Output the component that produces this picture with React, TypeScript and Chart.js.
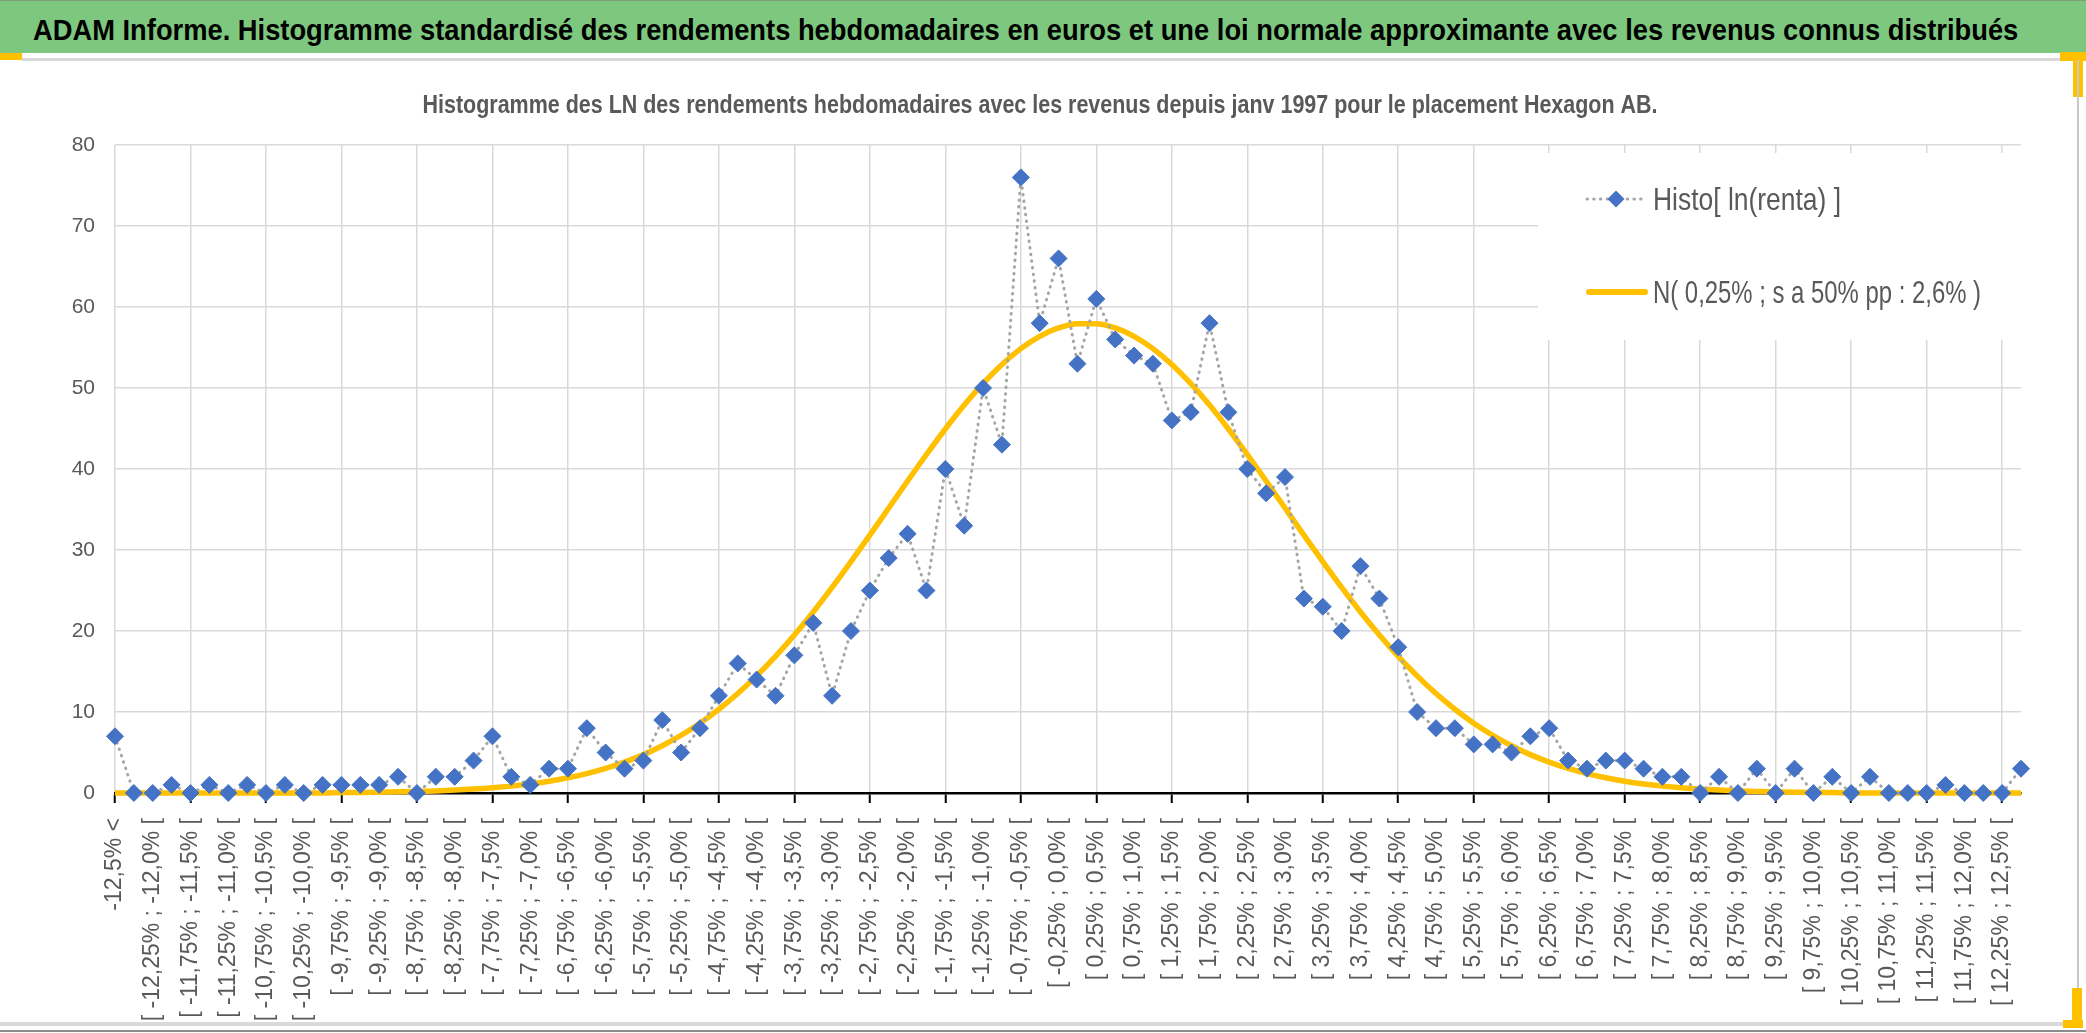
import React, { useEffect, useRef } from 'react';
import { Chart, registerables } from 'chart.js';

Chart.register(...registerables);

const mainTitle =
  'ADAM Informe. Histogramme standardisé des rendements hebdomadaires en euros et une loi normale approximante avec les revenus connus distribués';
const chartTitle =
  'Histogramme des LN des rendements hebdomadaires avec les revenus depuis janv 1997 pour le placement Hexagon AB.';

const seriesHistoName = 'Histo[ ln(renta) ]';
const seriesNormalName = 'N( 0,25% ; s a 50% pp : 2,6% )';

const categories = [
  '-12,5% <',
  '[ -12,5% ; -12,25% [', '[ -12,25% ; -12,0% [', '[ -12,0% ; -11,75% [', '[ -11,75% ; -11,5% [',
  '[ -11,5% ; -11,25% [', '[ -11,25% ; -11,0% [', '[ -11,0% ; -10,75% [', '[ -10,75% ; -10,5% [',
  '[ -10,5% ; -10,25% [', '[ -10,25% ; -10,0% [', '[ -10,0% ; -9,75% [', '[ -9,75% ; -9,5% [',
  '[ -9,5% ; -9,25% [', '[ -9,25% ; -9,0% [', '[ -9,0% ; -8,75% [', '[ -8,75% ; -8,5% [',
  '[ -8,5% ; -8,25% [', '[ -8,25% ; -8,0% [', '[ -8,0% ; -7,75% [', '[ -7,75% ; -7,5% [',
  '[ -7,5% ; -7,25% [', '[ -7,25% ; -7,0% [', '[ -7,0% ; -6,75% [', '[ -6,75% ; -6,5% [',
  '[ -6,5% ; -6,25% [', '[ -6,25% ; -6,0% [', '[ -6,0% ; -5,75% [', '[ -5,75% ; -5,5% [',
  '[ -5,5% ; -5,25% [', '[ -5,25% ; -5,0% [', '[ -5,0% ; -4,75% [', '[ -4,75% ; -4,5% [',
  '[ -4,5% ; -4,25% [', '[ -4,25% ; -4,0% [', '[ -4,0% ; -3,75% [', '[ -3,75% ; -3,5% [',
  '[ -3,5% ; -3,25% [', '[ -3,25% ; -3,0% [', '[ -3,0% ; -2,75% [', '[ -2,75% ; -2,5% [',
  '[ -2,5% ; -2,25% [', '[ -2,25% ; -2,0% [', '[ -2,0% ; -1,75% [', '[ -1,75% ; -1,5% [',
  '[ -1,5% ; -1,25% [', '[ -1,25% ; -1,0% [', '[ -1,0% ; -0,75% [', '[ -0,75% ; -0,5% [',
  '[ -0,5% ; -0,25% [', '[ -0,25% ; 0,0% [', '[ 0,0% ; 0,25% [', '[ 0,25% ; 0,5% [',
  '[ 0,5% ; 0,75% [', '[ 0,75% ; 1,0% [', '[ 1,0% ; 1,25% [', '[ 1,25% ; 1,5% [',
  '[ 1,5% ; 1,75% [', '[ 1,75% ; 2,0% [', '[ 2,0% ; 2,25% [', '[ 2,25% ; 2,5% [',
  '[ 2,5% ; 2,75% [', '[ 2,75% ; 3,0% [', '[ 3,0% ; 3,25% [', '[ 3,25% ; 3,5% [',
  '[ 3,5% ; 3,75% [', '[ 3,75% ; 4,0% [', '[ 4,0% ; 4,25% [', '[ 4,25% ; 4,5% [',
  '[ 4,5% ; 4,75% [', '[ 4,75% ; 5,0% [', '[ 5,0% ; 5,25% [', '[ 5,25% ; 5,5% [',
  '[ 5,5% ; 5,75% [', '[ 5,75% ; 6,0% [', '[ 6,0% ; 6,25% [', '[ 6,25% ; 6,5% [',
  '[ 6,5% ; 6,75% [', '[ 6,75% ; 7,0% [', '[ 7,0% ; 7,25% [', '[ 7,25% ; 7,5% [',
  '[ 7,5% ; 7,75% [', '[ 7,75% ; 8,0% [', '[ 8,0% ; 8,25% [', '[ 8,25% ; 8,5% [',
  '[ 8,5% ; 8,75% [', '[ 8,75% ; 9,0% [', '[ 9,0% ; 9,25% [', '[ 9,25% ; 9,5% [',
  '[ 9,5% ; 9,75% [', '[ 9,75% ; 10,0% [', '[ 10,0% ; 10,25% [', '[ 10,25% ; 10,5% [',
  '[ 10,5% ; 10,75% [', '[ 10,75% ; 11,0% [', '[ 11,0% ; 11,25% [', '[ 11,25% ; 11,5% [',
  '[ 11,5% ; 11,75% [', '[ 11,75% ; 12,0% [', '[ 12,0% ; 12,25% [', '[ 12,25% ; 12,5% [',
  '12,5% <',
];

const histoValues = [
  7, 0, 0, 1, 0, 1, 0, 1, 0, 1,
  0, 1, 1, 1, 1, 2, 0, 2, 2, 4,
  7, 2, 1, 3, 3, 8, 5, 3, 4, 9,
  5, 8, 12, 16, 14, 12, 17, 21, 12, 20,
  25, 29, 32, 25, 40, 33, 50, 43, 76, 58,
  66, 53, 61, 56, 54, 53, 46, 47, 58, 47,
  40, 37, 39, 24, 23, 20, 28, 24, 18, 10,
  8, 8, 6, 6, 5, 7, 8, 4, 3, 4,
  4, 3, 2, 2, 0, 2, 0, 3, 0, 3,
  0, 2, 0, 2, 0, 0, 0, 1, 0, 0,
  0, 3,
];

const normalValues = [
  0, 0, 0, 0, 0, 0, 0, 0, 0, 0,
  0, 0, 0.05, 0.07, 0.1, 0.14, 0.19, 0.26, 0.36, 0.48,
  0.64, 0.85, 1.12, 1.46, 1.88, 2.4, 3.04, 3.81, 4.74, 5.84,
  7.13, 8.62, 10.34, 12.28, 14.46, 16.87, 19.51, 22.35, 25.38, 28.56,
  31.84, 35.18, 38.52, 41.79, 44.94, 47.89, 50.56, 52.91, 54.86, 56.38,
  57.41, 57.93, 57.93, 57.41, 56.38, 54.86, 52.91, 50.56, 47.89, 44.94,
  41.79, 38.52, 35.18, 31.84, 28.56, 25.38, 22.35, 19.51, 16.87, 14.46,
  12.28, 10.34, 8.62, 7.13, 5.84, 4.74, 3.81, 3.04, 2.4, 1.88,
  1.46, 1.12, 0.85, 0.64, 0.48, 0.36, 0.26, 0.19, 0.14, 0.1,
  0.07, 0.05, 0, 0, 0, 0, 0, 0, 0, 0,
  0, 0,
];

const yTicks = [0, 10, 20, 30, 40, 50, 60, 70, 80];

const SANS = "'Liberation Sans', Arial, sans-serif";
const GRID = '#D9D9D9';
const TEXT = '#595959';
const BLUE = '#4472C4';
const GOLD = '#FFC000';
const DOT = '#A5A5A5';

// canvas offset inside the page
const CANVAS_LEFT = 59;
const CANVAS_TOP = 62;
const CANVAS_W = 2017;
const CANVAS_H = 960;

function fitText(ctx: CanvasRenderingContext2D, text: string, x: number, y: number, width: number) {
  const w = ctx.measureText(text).width;
  ctx.save();
  ctx.translate(x, y);
  ctx.scale(width / w, 1);
  ctx.fillText(text, 0, 0);
  ctx.restore();
}

const textPlugin = {
  id: 'excelTexts',
  afterDraw(chart: any) {
    const ctx = chart.ctx as CanvasRenderingContext2D;
    const area = chart.chartArea;
    ctx.save();

    // chart title (condensed, like the original narrow font)
    ctx.font = `bold 26px ${SANS}`;
    ctx.fillStyle = TEXT;
    ctx.textBaseline = 'alphabetic';
    ctx.textAlign = 'center';
    fitText(ctx, chartTitle, 1040 - CANVAS_LEFT, 51, 1235);

    // legend box hiding the gridlines
    ctx.fillStyle = '#ffffff';
    ctx.fillRect(1538 - CANVAS_LEFT, 153 - CANVAS_TOP, area.right + 1 - (1538 - CANVAS_LEFT), 187);

    const sx0 = 1587 - CANVAS_LEFT;
    const y1 = 199 - CANVAS_TOP;
    const y2 = 292 - CANVAS_TOP;
    ctx.strokeStyle = DOT;
    ctx.lineWidth = 3;
    ctx.lineCap = 'round';
    ctx.setLineDash([0.5, 6.2]);
    ctx.beginPath();
    ctx.moveTo(sx0, y1);
    ctx.lineTo(sx0 + 56, y1);
    ctx.stroke();
    ctx.setLineDash([]);
    ctx.fillStyle = BLUE;
    const dx = sx0 + 29;
    const r = 8.5;
    ctx.beginPath();
    ctx.moveTo(dx, y1 - r);
    ctx.lineTo(dx + r, y1);
    ctx.lineTo(dx, y1 + r);
    ctx.lineTo(dx - r, y1);
    ctx.closePath();
    ctx.fill();
    ctx.strokeStyle = GOLD;
    ctx.lineWidth = 6;
    ctx.lineCap = 'round';
    ctx.beginPath();
    ctx.moveTo(sx0 + 2, y2);
    ctx.lineTo(sx0 + 58, y2);
    ctx.stroke();

    ctx.fillStyle = TEXT;
    ctx.font = `32px ${SANS}`;
    ctx.textAlign = 'left';
    ctx.textBaseline = 'alphabetic';
    const lx = 1653 - CANVAS_LEFT;
    fitText(ctx, seriesHistoName, lx, 210 - CANVAS_TOP, 188);
    fitText(ctx, seriesNormalName, lx, 303 - CANVAS_TOP, 328);

    ctx.restore();
  },
};

export default function App() {
  const ref = useRef<HTMLCanvasElement>(null);
  const titleRef = useRef<HTMLSpanElement>(null);

  useEffect(() => {
    document.body.style.margin = '0';
    const span = titleRef.current;
    if (span) {
      const w = span.offsetWidth;
      if (w > 0) span.style.transform = `scaleX(${1985 / w})`;
    }
    const canvas = ref.current;
    if (!canvas) return;
    const chart = new Chart(canvas, {
      type: 'line',
      data: {
        labels: categories,
        datasets: [
          {
            label: seriesHistoName,
            data: histoValues,
            borderColor: DOT,
            borderWidth: 3,
            borderDash: [0.5, 6.2],
            borderCapStyle: 'round',
            pointStyle: 'rectRot',
            pointRadius: 8.5,
            pointBackgroundColor: BLUE,
            pointBorderColor: BLUE,
            pointBorderWidth: 1,
            tension: 0,
            clip: false,
            fill: false,
          } as any,
          {
            label: seriesNormalName,
            data: normalValues,
            borderColor: GOLD,
            borderWidth: 5.5,
            pointRadius: 0,
            cubicInterpolationMode: 'monotone',
            clip: false,
            fill: false,
          } as any,
        ],
      },
      options: {
        responsive: false,
        maintainAspectRatio: false,
        devicePixelRatio: 1,
        animation: false,
        layout: { padding: { left: 0, right: 55, top: 83, bottom: 0 } },
        plugins: {
          legend: { display: false },
          tooltip: { enabled: false },
          title: { display: false },
        },
        scales: {
          x: {
            type: 'category',
            offset: false,
            grid: {
              color: (c: any) => (c.index % 4 === 0 ? GRID : 'rgba(0,0,0,0)'),
              lineWidth: 1.5,
              drawTicks: true,
              tickLength: 10,
              tickColor: (c: any) => (c.index % 4 === 0 ? '#000000' : 'rgba(0,0,0,0)'),
              tickWidth: 2,
            },
            border: { display: true, color: '#000000', width: 2.5 },
            ticks: {
              autoSkip: false,
              minRotation: 90,
              maxRotation: 90,
              padding: 15,
              color: TEXT,
              font: { family: SANS, size: 23 },
              callback: (_v: any, i: number) => (i % 2 === 0 ? categories[i] : ''),
            },
            afterFit: (s: any) => {
              s.height = 229;
            },
          },
          y: {
            min: yTicks[0],
            max: yTicks[yTicks.length - 1],
            grid: { color: GRID, lineWidth: 1.5, drawTicks: false },
            border: { display: false },
            ticks: {
              stepSize: 10,
              padding: 20,
              color: TEXT,
              font: { family: SANS, size: 21 },
            },
            afterFit: (s: any) => {
              s.width = 56;
            },
          },
        },
      } as any,
      plugins: [textPlugin],
    });
    return () => chart.destroy();
  }, []);

  return (
    <div
      style={{
        position: 'absolute',
        left: 0,
        top: 0,
        width: 2086,
        height: 1033,
        background: '#ffffff',
        overflow: 'hidden',
      }}
    >
      <div style={{ position: 'absolute', left: 0, top: 0, width: 2086, height: 53, background: '#7DC87E' }}>
        <span
          ref={titleRef}
          style={{
            position: 'absolute',
            left: 33,
            top: 3,
            display: 'inline-block',
            lineHeight: '53px',
            color: '#000000',
            fontFamily: SANS,
            fontWeight: 'bold',
            fontSize: 29.5,
            whiteSpace: 'nowrap',
            transformOrigin: 'left center',
          }}
        >
          {mainTitle}
        </span>
      </div>
      <div style={{ position: 'absolute', left: 0, top: 0, width: 2086, height: 1, background: '#7F9F7F' }} />
      <div style={{ position: 'absolute', left: 22, top: 58, width: 2050, height: 3, background: '#DADADA' }} />
      <div style={{ position: 'absolute', left: 0, top: 53, width: 22, height: 7, background: GOLD }} />
      <div style={{ position: 'absolute', left: 2060, top: 52, width: 26, height: 9, background: GOLD }} />
      <div style={{ position: 'absolute', left: 2073, top: 52, width: 10, height: 45, background: GOLD }} />
      <div style={{ position: 'absolute', left: 2077, top: 60, width: 2, height: 966, background: '#C8C8C8' }} />
      <div style={{ position: 'absolute', left: 0, top: 1022, width: 2080, height: 4, background: '#DADADA' }} />
      <div style={{ position: 'absolute', left: 0, top: 1030, width: 2086, height: 2, background: '#8C8C8C' }} />
      <div style={{ position: 'absolute', left: 2072, top: 988, width: 10, height: 40, background: GOLD }} />
      <div style={{ position: 'absolute', left: 2063, top: 1020, width: 20, height: 8, background: GOLD }} />
      <div style={{ position: 'absolute', left: CANVAS_LEFT, top: CANVAS_TOP, width: CANVAS_W, height: CANVAS_H }}>
        <canvas
          ref={ref}
          width={CANVAS_W}
          height={CANVAS_H}
          style={{ width: CANVAS_W, height: CANVAS_H, display: 'block' }}
        />
      </div>
    </div>
  );
}
